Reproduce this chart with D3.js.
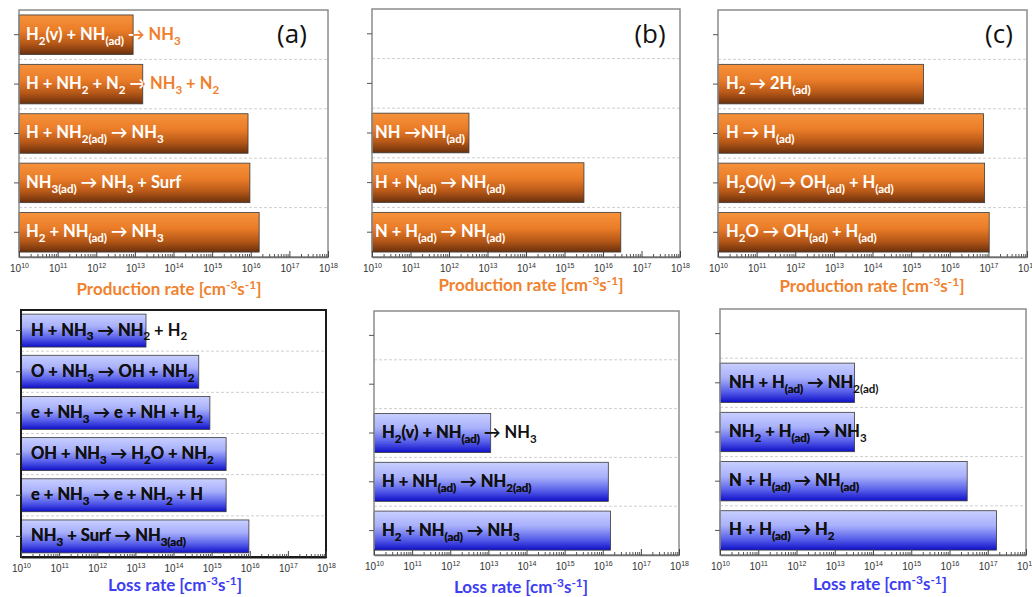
<!DOCTYPE html>
<html>
<head>
<meta charset="utf-8">
<script src="https://cdn.jsdelivr.net/npm/d3@7"></script>
<style>
  body { margin: 0; background: #fff; }
  svg { display: block; }
</style>
</head>
<body>
<svg id="chart" width="1032" height="597"></svg>
<script>
// ---- data (top -> bottom in each panel, null = empty slot) ----
const decades = [1e10, 1e11, 1e12, 1e13, 1e14, 1e15, 1e16, 1e17, 1e18];

const prodA_labels = ["H_{2}(v) + NH_{(ad)} → NH_{3}", "H + NH_{2} + N_{2} → NH_{3} + N_{2}", "H + NH_{2(ad)} → NH_{3}", "NH_{3(ad)} → NH_{3} + Surf", "H_{2} + NH_{(ad)} → NH_{3}"];
const prodA_values = [9e12, 1.6e13, 8.5e15, 9.5e15, 1.65e16];

const prodB_labels = [null, null, "NH →NH_{(ad)}", "H + N_{(ad)} → NH_{(ad)}", "N + H_{(ad)} → NH_{(ad)}"];
const prodB_values = [null, null, 3.3e12, 3.2e15, 2.9e16];

const prodC_labels = [null, "H_{2} → 2H_{(ad)}", "H → H_{(ad)}", "H_{2}O(v) → OH_{(ad)} + H_{(ad)}", "H_{2}O → OH_{(ad)} + H_{(ad)}"];
const prodC_values = [null, 2.1e15, 7.5e16, 8e16, 1.05e17];

const lossA_labels = ["H + NH_{3} → NH_{2} + H_{2}", "O + NH_{3} → OH + NH_{2}", "e + NH_{3} → e + NH + H_{2}", "OH + NH_{3} → H_{2}O + NH_{2}", "e + NH_{3} → e + NH_{2} + H", "NH_{3} + Surf → NH_{3(ad)}"];
const lossA_values = [1.9e13, 4.6e14, 9e14, 2.4e15, 2.4e15, 9.5e15];

const lossB_labels = [null, null, "H_{2}(v) + NH_{(ad)} → NH_{3}", "H + NH_{(ad)} → NH_{2(ad)}", "H_{2} + NH_{(ad)} → NH_{3}"];
const lossB_values = [null, null, 1.15e13, 1.4e16, 1.6e16];

const lossC_labels = [null, "NH + H_{(ad)} → NH_{2(ad)}", "NH_{2} + H_{(ad)} → NH_{3}", "N + H_{(ad)} → NH_{(ad)}", "H + H_{(ad)} → H_{2}"];
const lossC_values = [null, 3.3e13, 3.3e13, 2.9e16, 1.7e17];

const prodTitle = "Production rate [cm^{-3}s^{-1}]";
const lossTitle = "Loss rate [cm^{-3}s^{-1}]";

// ---- layout ----
const panels = [
  {labels: prodA_labels, values: prodA_values, kind: "prod", x0: 19, x1: 328, y0: 10, y1: 257, tag: "(a)", tagX: 292, tagY: 43, titleX: 169, titleY: 295, pad: 7},
  {labels: prodB_labels, values: prodB_values, kind: "prod", x0: 372, x1: 680, y0: 9, y1: 257, tag: "(b)", tagX: 650, tagY: 43, titleX: 531, titleY: 291, pad: 3},
  {labels: prodC_labels, values: prodC_values, kind: "prod", x0: 718, x1: 1027, y0: 10, y1: 257, tag: "(c)", tagX: 999, tagY: 43, titleX: 872, titleY: 292, pad: 8},
  {labels: lossA_labels, values: lossA_values, kind: "loss", x0: 21, x1: 326, y0: 310, y1: 557, titleX: 175, titleY: 591, pad: 10, dark: true},
  {labels: lossB_labels, values: lossB_values, kind: "loss", x0: 374, x1: 679, y0: 311, y1: 555, titleX: 521, titleY: 593, pad: 8},
  {labels: lossC_labels, values: lossC_values, kind: "loss", x0: 720, x1: 1026, y0: 309, y1: 555, titleX: 880, titleY: 590, pad: 9}
];

const style = {
  prod: {inside: "#ffffff", outside: "#f07f2c", title: "#f0822e", grad: "gradProd"},
  loss: {inside: "#111111", outside: "#111111", title: "#3d3df2", grad: "gradLoss"}
};

const svg = d3.select("#chart");
const defs = svg.append("defs");

function addGrad(id, stops) {
  const g = defs.append("linearGradient").attr("id", id)
    .attr("x1", 0).attr("y1", 0).attr("x2", 0).attr("y2", 1);
  stops.forEach(s => g.append("stop").attr("offset", s[0]).attr("stop-color", s[1]));
}
addGrad("gradProd", [[0, "#f6923b"], [0.4, "#ea7c28"], [0.72, "#b65818"], [1, "#6a300c"]]);
addGrad("gradLoss", [[0, "#c8cfff"], [0.38, "#a8b0fb"], [0.72, "#5860ea"], [1, "#0f10c8"]]);

// write "A_{sub} B^{sup}" into a text element as tspans
function richText(sel, str, fs) {
  const re = /([_^])\{([^}]*)\}/g;
  let last = 0, m, shift = 0;
  const parts = [];
  while ((m = re.exec(str)) !== null) {
    if (m.index > last) parts.push({t: str.slice(last, m.index), k: ""});
    parts.push({t: m[2], k: m[1]});
    last = re.lastIndex;
  }
  if (last < str.length) parts.push({t: str.slice(last), k: ""});
  parts.forEach(p => {
    const ts = sel.append("tspan").text(p.t);
    let target = 0;
    if (p.k === "_") { target = 0.3 * fs; ts.attr("font-size", fs * 0.7); }
    if (p.k === "^") { target = -0.38 * fs; ts.attr("font-size", fs * 0.7); }
    if (target !== shift) { ts.attr("dy", target - shift); shift = target; }
  });
}

const labelFont = "Lato, 'Open Sans', sans-serif";

panels.forEach((p, pi) => {
  const st = style[p.kind];
  const g = svg.append("g");
  const keys = p.labels.map((d, i) => "r" + i);

  const x = d3.scaleLog().domain([1e10, 1e18]).range([p.x0, p.x1]);
  const y = d3.scaleBand().domain(keys).range([p.y0, p.y1]).paddingInner(0.2).paddingOuter(0.1);
  const step = y.step();

  // dashed gridlines between categories
  keys.slice(1).forEach(k => {
    g.append("line")
      .attr("x1", p.x0).attr("x2", p.x1)
      .attr("y1", y(k) - step * 0.1).attr("y2", y(k) - step * 0.1)
      .attr("stroke", "#cfcfcf").attr("stroke-width", 1).attr("stroke-dasharray", "3,2");
  });

  // bars
  const rows = keys.map((k, i) => ({k: k, label: p.labels[i], v: p.values[i]})).filter(d => d.v != null);
  rows.forEach(d => {
    const clipId = "clip" + pi + "_" + d.k;
    const bx = p.x0, by = y(d.k), bw = x(d.v) - p.x0, bh = y.bandwidth();
    defs.append("clipPath").attr("id", clipId)
      .append("rect").attr("x", bx).attr("y", by).attr("width", bw).attr("height", bh);
    g.append("rect")
      .attr("x", bx).attr("y", by).attr("width", bw).attr("height", bh)
      .attr("fill", "url(#" + st.grad + ")")
      .attr("stroke", "#3a3a3a").attr("stroke-width", 0.8);

    const fs = 16.5;
    const ty = by + bh / 2 + fs * 0.3;
    // overflow colour, then inside colour clipped to the bar
    const t1 = g.append("text").attr("x", bx + p.pad).attr("y", ty)
      .attr("font-family", labelFont).attr("font-weight", 700).attr("font-size", fs)
      .attr("fill", st.outside);
    richText(t1, d.label, fs);
    const t2 = g.append("text").attr("x", bx + p.pad).attr("y", ty)
      .attr("font-family", labelFont).attr("font-weight", 700).attr("font-size", fs)
      .attr("fill", st.inside).attr("clip-path", "url(#" + clipId + ")");
    richText(t2, d.label, fs);
  });

  // frame
  g.append("rect")
    .attr("x", p.x0).attr("y", p.y0).attr("width", p.x1 - p.x0).attr("height", p.y1 - p.y0)
    .attr("fill", "none")
    .attr("stroke", p.dark ? "#1a1a1a" : "#8c8c8c")
    .attr("stroke-width", p.dark ? 2 : 1.5);

  // y ticks at category centres (outward)
  keys.forEach(k => {
    const yc = y(k) + y.bandwidth() / 2;
    g.append("line").attr("x1", p.x0 - 5).attr("x2", p.x0).attr("y1", yc).attr("y2", yc)
      .attr("stroke", "#555").attr("stroke-width", 1);
  });

  // x axis: minor + major ticks pointing inward
  const minor = [];
  decades.slice(0, -1).forEach(dv => { for (let m = 2; m <= 9; m++) minor.push(dv * m); });
  const axMinor = g.append("g").attr("transform", "translate(0," + p.y1 + ")")
    .call(d3.axisBottom(x).tickValues(minor).tickSize(-3).tickFormat(""));
  axMinor.select(".domain").remove();
  axMinor.selectAll("line").attr("stroke", "#555");

  const axMajor = g.append("g").attr("transform", "translate(0," + p.y1 + ")")
    .call(d3.axisBottom(x).tickValues(decades).tickSizeInner(-6).tickSizeOuter(0).tickPadding(5).tickFormat(""));
  axMajor.select(".domain").attr("stroke", p.dark ? "#1a1a1a" : "#6e6e6e").attr("stroke-width", p.dark ? 2 : 1.5);
  axMajor.selectAll("line").attr("stroke", "#444");
  axMajor.selectAll(".tick").each(function(dv) {
    const t = d3.select(this).select("text")
      .attr("font-family", "'Liberation Sans', sans-serif").attr("font-size", 10).attr("fill", "#333")
      .attr("dy", "0.95em");
    t.text(null);
    richText(t, "10^{" + Math.round(Math.log10(dv)) + "}", 10);
  });

  // axis title
  const tt = svg.append("text").attr("x", p.titleX).attr("y", p.titleY)
    .attr("text-anchor", "middle").attr("font-family", labelFont).attr("font-weight", 700)
    .attr("font-size", 17).attr("fill", st.title);
  richText(tt, p.kind === "prod" ? prodTitle : lossTitle, 17);

  // panel tag
  if (p.tag) {
    svg.append("text").attr("x", p.tagX).attr("y", p.tagY).attr("text-anchor", "middle")
      .attr("font-family", "'Open Sans', sans-serif").attr("font-size", 26).attr("fill", "#111")
      .text(p.tag);
  }
});
</script>
</body>
</html>
